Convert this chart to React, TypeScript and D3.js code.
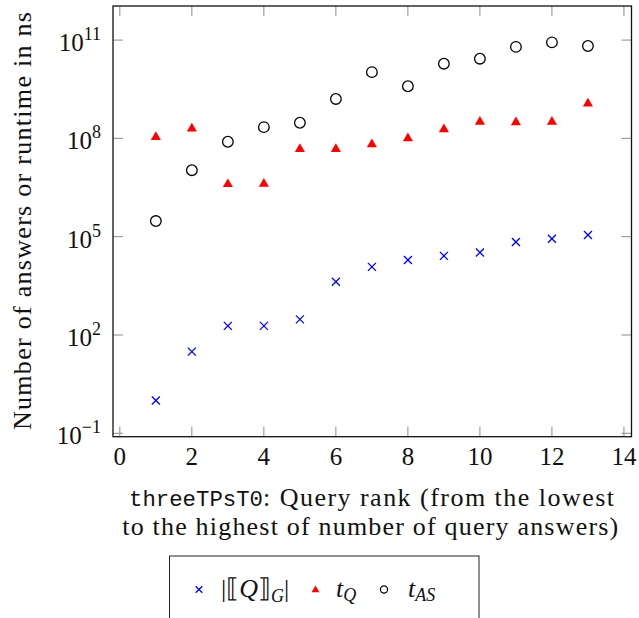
import * as React from "react";
import * as d3 from "d3";

const ranks = [1, 2, 3, 4, 5, 6, 7, 8, 9, 10, 11, 12, 13];
const answers = [1, 31, 190, 190, 300, 4200, 12000, 19500, 26000, 33000, 69000, 87000, 112000];
const tQ = [1.1e8, 2.0e8, 4.0e6, 4.1e6, 4.7e7, 4.7e7, 6.6e7, 1.0e8, 1.9e8, 3.2e8, 3.1e8, 3.2e8, 1.15e9];
const tAS = [3.0e5, 1.07e7, 7.9e7, 2.2e8, 3.0e8, 1.6e9, 1.05e10, 3.9e9, 1.9e10, 2.7e10, 6.2e10, 8.5e10, 6.6e10];

const xTicks = [0, 2, 4, 6, 8, 10, 12, 14];
const yTickExps = [-1, 2, 5, 8, 11];

const serif = "Liberation Serif, DejaVu Serif, Noto Serif, serif";
const mono = "Liberation Mono, DejaVu Sans Mono, monospace";

const W = 639;
const H = 618;
const frame = { left: 113, right: 631.5, top: 6, bottom: 436.7 };

const Cross = ({ x, y, s, color }: { x: number; y: number; s: number; color: string }) => (
  <g stroke={color} strokeWidth={1.3}>
    <line x1={x - s} y1={y - s} x2={x + s} y2={y + s} />
    <line x1={x - s} y1={y + s} x2={x + s} y2={y - s} />
  </g>
);

const Triangle = ({ x, y, r, color }: { x: number; y: number; r: number; color: string }) => {
  const h = (r * Math.sqrt(3)) / 2;
  return <path d={`M${x},${y - r}L${x + h},${y + r / 2}L${x - h},${y + r / 2}Z`} fill={color} />;
};

const App = () => {
  const x = d3.scaleLinear().domain([-0.19, 14.21]).range([frame.left, frame.right]);
  const y = d3
    .scaleLog()
    .domain([Math.pow(10, -1.104), Math.pow(10, 12.04)])
    .range([frame.bottom, frame.top]);

  const tickLen = 10;
  const tickColor = "#8c8c8c";
  const cx = (frame.left + frame.right) / 2;

  return (
    <svg
      width={W}
      height={H}
      viewBox={`0 0 ${W} ${H}`}
      style={{ position: "absolute", left: 0, top: 0, background: "#fff" }}
    >
      <rect x={0} y={0} width={W} height={H} fill="#fff" />

      {/* ticks on all four sides, pointing inward */}
      {xTicks.map((v) => (
        <g key={`xt${v}`} stroke={tickColor} strokeWidth={1}>
          <line x1={x(v)} x2={x(v)} y1={frame.bottom} y2={frame.bottom - tickLen} />
          <line x1={x(v)} x2={x(v)} y1={frame.top} y2={frame.top + tickLen} />
        </g>
      ))}
      {yTickExps.map((e) => (
        <g key={`yt${e}`} stroke={tickColor} strokeWidth={1}>
          <line x1={frame.left} x2={frame.left + tickLen} y1={y(Math.pow(10, e))} y2={y(Math.pow(10, e))} />
          <line x1={frame.right} x2={frame.right - tickLen} y1={y(Math.pow(10, e))} y2={y(Math.pow(10, e))} />
        </g>
      ))}

      <rect
        x={frame.left}
        y={frame.top}
        width={frame.right - frame.left}
        height={frame.bottom - frame.top}
        fill="none"
        stroke="#111"
        strokeWidth={1.3}
      />

      {/* tick labels */}
      {xTicks.map((v) => (
        <text key={`xl${v}`} x={x(v)} y={465} textAnchor="middle" fontFamily={serif} fontSize={25} fill="#111">
          {v}
        </text>
      ))}
      {yTickExps.map((e) => (
        <text
          key={`yl${e}`}
          x={101}
          y={y(Math.pow(10, e)) + 11}
          textAnchor="end"
          fontFamily={serif}
          fontSize={25}
          fill="#111"
        >
          10
          <tspan dy={-11} fontSize={18}>
            {e < 0 ? `\u2212${-e}` : e}
          </tspan>
        </text>
      ))}

      {/* series */}
      {ranks.map((r, i) => (
        <Cross key={`c${r}`} x={x(r)} y={y(answers[i])} s={4} color="#0000ff" />
      ))}
      {ranks.map((r, i) => (
        <Triangle key={`t${r}`} x={x(r)} y={y(tQ[i])} r={5.8} color="#ff0000" />
      ))}
      {ranks.map((r, i) => (
        <circle key={`o${r}`} cx={x(r)} cy={y(tAS[i])} r={5.3} fill="none" stroke="#000" strokeWidth={1.3} />
      ))}

      {/* axis labels */}
      <text
        transform={`translate(31, ${(430 + 12) / 2}) rotate(-90)`}
        textAnchor="middle"
        fontFamily={serif}
        fontSize={26}
        fill="#111"
        textLength={418}
        lengthAdjust="spacing"
      >
        Number of answers or runtime in ns
      </text>

      <text x={129} y={506} fontFamily={mono} fontSize={22.3} fill="#111" textLength={134} lengthAdjust="spacing">
        threeTPsT0
      </text>
      <text x={263} y={506} fontFamily={serif} fontSize={26} fill="#111" textLength={351} lengthAdjust="spacing">
        : Query rank (from the lowest
      </text>
      <text
        x={cx - 2}
        y={535}
        textAnchor="middle"
        fontFamily={serif}
        fontSize={26}
        fill="#111"
        textLength={496}
        lengthAdjust="spacing"
      >
        to the highest of number of query answers)
      </text>

      {/* legend */}
      <rect x={169.5} y={556} width={309.5} height={80} fill="#fff" stroke="#222" strokeWidth={1} />
      <Cross x={199} y={589.5} s={3.3} color="#0000ff" />
      <text x={221} y={597} fontFamily={serif} fontSize={26} fill="#111">
        |⟦<tspan fontStyle="italic">Q</tspan>⟧
        <tspan dy={5} fontSize={18} fontStyle="italic">
          G
        </tspan>
        <tspan dy={-5}>|</tspan>
      </text>
      <Triangle x={315.5} y={590} r={4.6} color="#ff0000" />
      <text x={336} y={597} fontFamily={serif} fontSize={26} fill="#111" fontStyle="italic">
        t
        <tspan dy={4} fontSize={18}>
          Q
        </tspan>
      </text>
      <circle cx={384} cy={589.5} r={3.6} fill="none" stroke="#000" strokeWidth={1.2} />
      <text x={408} y={597} fontFamily={serif} fontSize={26} fill="#111" fontStyle="italic">
        t
        <tspan dy={4} fontSize={18}>
          AS
        </tspan>
      </text>
    </svg>
  );
};

export default App;
